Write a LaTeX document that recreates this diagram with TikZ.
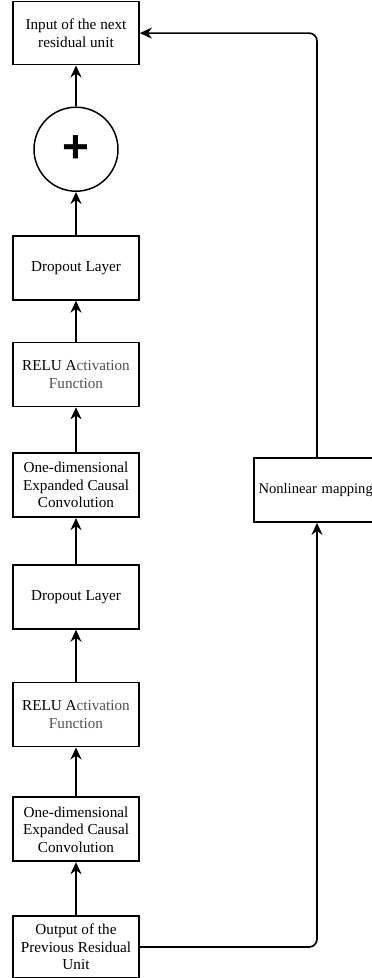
\documentclass[tikz,border=0pt]{standalone}
\usepackage{fontspec}
\setmainfont{Liberation Serif}
\newfontfamily\plusfont{Liberation Sans}
\usetikzlibrary{arrows.meta,positioning}
\definecolor{lightink}{RGB}{80,80,80}

\begin{document}
\begin{tikzpicture}[
    x=1pt,y=1pt,
    block/.style={rectangle,draw=black,line width=1.7pt,minimum width=126pt,
      minimum height=64pt,inner sep=2pt,align=center,font=\fontsize{15.2}{17.5}\selectfont},
    sumnode/.style={circle,draw=black,line width=1.5pt,minimum size=84pt,inner sep=0pt},
    arrow/.style={-{Stealth[length=12pt,width=11pt]},line width=1.7pt}
  ]
    \useasboundingbox (0,0) rectangle (372,-978);
    % main column, bottom to top
    \node[block,minimum height=62pt] (prevout) at (76,-947) {Output of the\\Previous Residual\\Unit};
    \node[block,above=53pt of prevout] (convb) {One-dimensional\\Expanded Causal\\Convolution};
    \node[block,above=49pt of convb] (relub) {RELU A{\color{lightink}ctivation}\\{\color{lightink}Function}};
    \node[block,above=52pt of relub] (dropb) {Dropout Layer};
    \node[block,above=46pt of dropb] (conva) {One-dimensional\\Expanded Causal\\Convolution};
    \node[block,above=45pt of conva] (relua) {RELU A{\color{lightink}ctivation}\\{\color{lightink}Function}};
    \node[block,above=41pt of relua] (dropa) {Dropout Layer};
    \node[sumnode,above=43pt of dropa] (sum) {\plusfont\fontsize{46}{46}\selectfont\bfseries +};
    \node[block,minimum height=63pt,above=41pt of sum] (nextin) {Input of the next\\residual unit};
    % shortcut branch
    \node[block,text width=117pt,inner xsep=4.5pt,align=left,font=\fontsize{14.6}{17}\selectfont] (nonlin) at (317,-490) {Nonlinear mapping};

    \draw[arrow] (prevout) -- (convb);
    \draw[arrow] (convb) -- (relub);
    \draw[arrow] (relub) -- (dropb);
    \draw[arrow] (dropb) -- (conva);
    \draw[arrow] (conva) -- (relua);
    \draw[arrow] (relua) -- (dropa);
    \draw[arrow] (dropa) -- (sum);
    \draw[arrow] (sum) -- (nextin);
    \draw[arrow,rounded corners=8pt] (prevout.east) -| (nonlin.south);
    \draw[arrow,rounded corners=8pt] (nonlin.north) |- (nextin.east);
  \end{tikzpicture}
\end{document}
